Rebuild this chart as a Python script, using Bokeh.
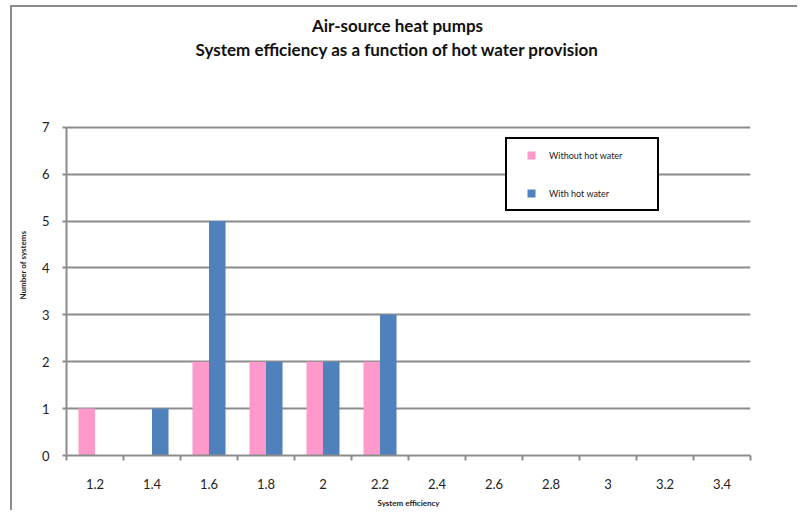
from bokeh.plotting import figure
from bokeh.models import (FactorRange, Range1d, Legend, LegendItem, LinearAxis, Label, Title,
                          CategoricalAxis, FixedTicker, ColumnDataSource, CustomLabelingPolicy)
from bokeh.transform import dodge
from bokeh.embed import file_html
from bokeh.resources import INLINE

categories = ["1.2", "1.4", "1.6", "1.8", "2", "2.2", "2.4", "2.6", "2.8", "3", "3.2", "3.4"]
without_hot_water = [1, 0, 2, 2, 2, 2, 0, 0, 0, 0, 0, 0]
with_hot_water = [0, 1, 5, 2, 2, 3, 0, 0, 0, 0, 0, 0]
y_ticks = [0, 1, 2, 3, 4, 5, 6, 7]
series_names = ["Without hot water", "With hot water"]
title_lines = ["Air-source heat pumps", "System efficiency as a function of hot water provision"]
y_title = "Number of systems"
x_title = "System efficiency"

FONT = "Lato"
PINK = "#FF99CC"
BLUE = "#4F81BD"
GRID = "#8c8c8c"
TXT = "#222222"

# layout (pixels): frame spans from y=5 to the x axis; the value axis covers 127..456
FRAME_TOP, AXIS_TOP, AXIS_BOTTOM = 5, 127, 456
Y_MAX = y_ticks[-1]
y_end = Y_MAX + (AXIS_TOP - FRAME_TOP) * Y_MAX / (AXIS_BOTTOM - AXIS_TOP)

source = ColumnDataSource(dict(cat=categories, without=without_hot_water, with_=with_hot_water))

p = figure(x_range=FactorRange(factors=categories, range_padding=0),
           y_range=Range1d(0, y_end),
           width=797, height=510, output_backend="svg", toolbar_location=None,
           x_axis_location=None,
           min_border_left=66, min_border_right=47, min_border_top=FRAME_TOP,
           min_border_bottom=510 - AXIS_BOTTOM)
p.styles = {
    "background-color": "white",
    "background-image": "linear-gradient(#8c8c8c, #8c8c8c), linear-gradient(#8c8c8c, #8c8c8c)",
    "background-size": "2px 100%, 100% 2px",
    "background-position": "10px 5px, 10px 5px",
    "background-repeat": "no-repeat",
}
p.outline_line_color = None
p.background_fill_alpha = 0
p.border_fill_alpha = 0

p.vbar(x=dodge("cat", -0.145, range=p.x_range), top="without", width=0.29, source=source,
       fill_color=PINK, line_color=None)
p.vbar(x=dodge("cat", 0.145, range=p.x_range), top="with_", width=0.29, source=source,
       fill_color=BLUE, line_color=None)

# grid
p.xgrid.grid_line_color = None
p.ygrid.grid_line_color = GRID
p.ygrid.grid_line_width = 2
p.ygrid.ticker = FixedTicker(ticks=y_ticks)

# y axis
p.yaxis.ticker = FixedTicker(ticks=y_ticks)
p.yaxis.bounds = (0, Y_MAX)
p.yaxis.axis_line_color = GRID
p.yaxis.axis_line_width = 2
p.yaxis.major_tick_line_color = GRID
p.yaxis.major_tick_line_width = 2
p.yaxis.major_tick_out = 4
p.yaxis.major_tick_in = 0
p.yaxis.minor_tick_line_color = None
p.yaxis.major_label_text_font = FONT
p.yaxis.major_label_text_font_size = "13px"
p.yaxis.major_label_text_color = TXT
p.yaxis.major_label_standoff = 13

# y axis title: vertical title in the left panel, starting at y=300 (from the bottom)
p.add_layout(Title(text=y_title, align="left", offset=AXIS_BOTTOM - 300, standoff=22,
                   text_font=FONT, text_font_size="8px", text_font_style="bold",
                   text_color=TXT), "left")

# x axis: tick marks at category boundaries (no labels)
no_labels = CustomLabelingPolicy(code="""
try { indices.clear(); } catch (e) {
  for (const i of Array.from(indices)) { indices.unset(i); }
}
return indices;
""")
bound_axis = LinearAxis(ticker=FixedTicker(ticks=list(range(len(categories) + 1))))
bound_axis.axis_line_color = GRID
bound_axis.axis_line_width = 2
bound_axis.major_tick_line_color = GRID
bound_axis.major_tick_line_width = 2
bound_axis.major_tick_out = 5
bound_axis.major_tick_in = 0
bound_axis.minor_tick_line_color = None
bound_axis.major_label_text_font_size = "1px"
bound_axis.major_label_standoff = 0
bound_axis.major_label_policy = no_labels
p.add_layout(bound_axis, "below")

# x axis: category labels
cat_axis = CategoricalAxis()
cat_axis.axis_line_color = None
cat_axis.major_tick_line_color = None
cat_axis.minor_tick_line_color = None
cat_axis.major_label_text_font = FONT
cat_axis.major_label_text_font_size = "13px"
cat_axis.major_label_text_color = TXT
cat_axis.major_label_standoff = 8
cat_axis.axis_label = x_title
cat_axis.axis_label_text_font = FONT
cat_axis.axis_label_text_font_size = "8px"
cat_axis.axis_label_text_font_style = "bold"
cat_axis.axis_label_text_color = TXT
cat_axis.axis_label_standoff = 6
p.add_layout(cat_axis, "below")

# two-line title inside the (extended) frame, measured from the frame bottom
for text, cy in zip(title_lines, [26, 50]):
    p.add_layout(Label(x=331, y=AXIS_BOTTOM - cy, x_units="screen", y_units="screen", text=text,
                       text_align="center", text_baseline="middle", text_font=FONT,
                       text_font_size="17px", text_font_style="bold", text_color="#111111"))

# legend with square marker proxies (never drawn in the plot: y is NaN)
r1 = p.scatter(x=[categories[0]], y=[float("nan")], marker="square", size=8,
               fill_color=PINK, line_color=None)
r2 = p.scatter(x=[categories[0]], y=[float("nan")], marker="square", size=8,
               fill_color=BLUE, line_color=None)
legend = Legend(items=[LegendItem(label=series_names[0], renderers=[r1]),
                       LegendItem(label=series_names[1], renderers=[r2])],
                location=(439, AXIS_BOTTOM - 212), padding=6, spacing=18, margin=0,
                glyph_width=36, glyph_height=20, label_height=20, label_width=102,
                label_standoff=0,
                border_line_color="black", border_line_width=2, border_line_alpha=1,
                background_fill_color="white", background_fill_alpha=1,
                label_text_font=FONT, label_text_font_size="9px", label_text_color=TXT)
p.add_layout(legend, "center")

open("out.html", "w").write(file_html(p, INLINE))
